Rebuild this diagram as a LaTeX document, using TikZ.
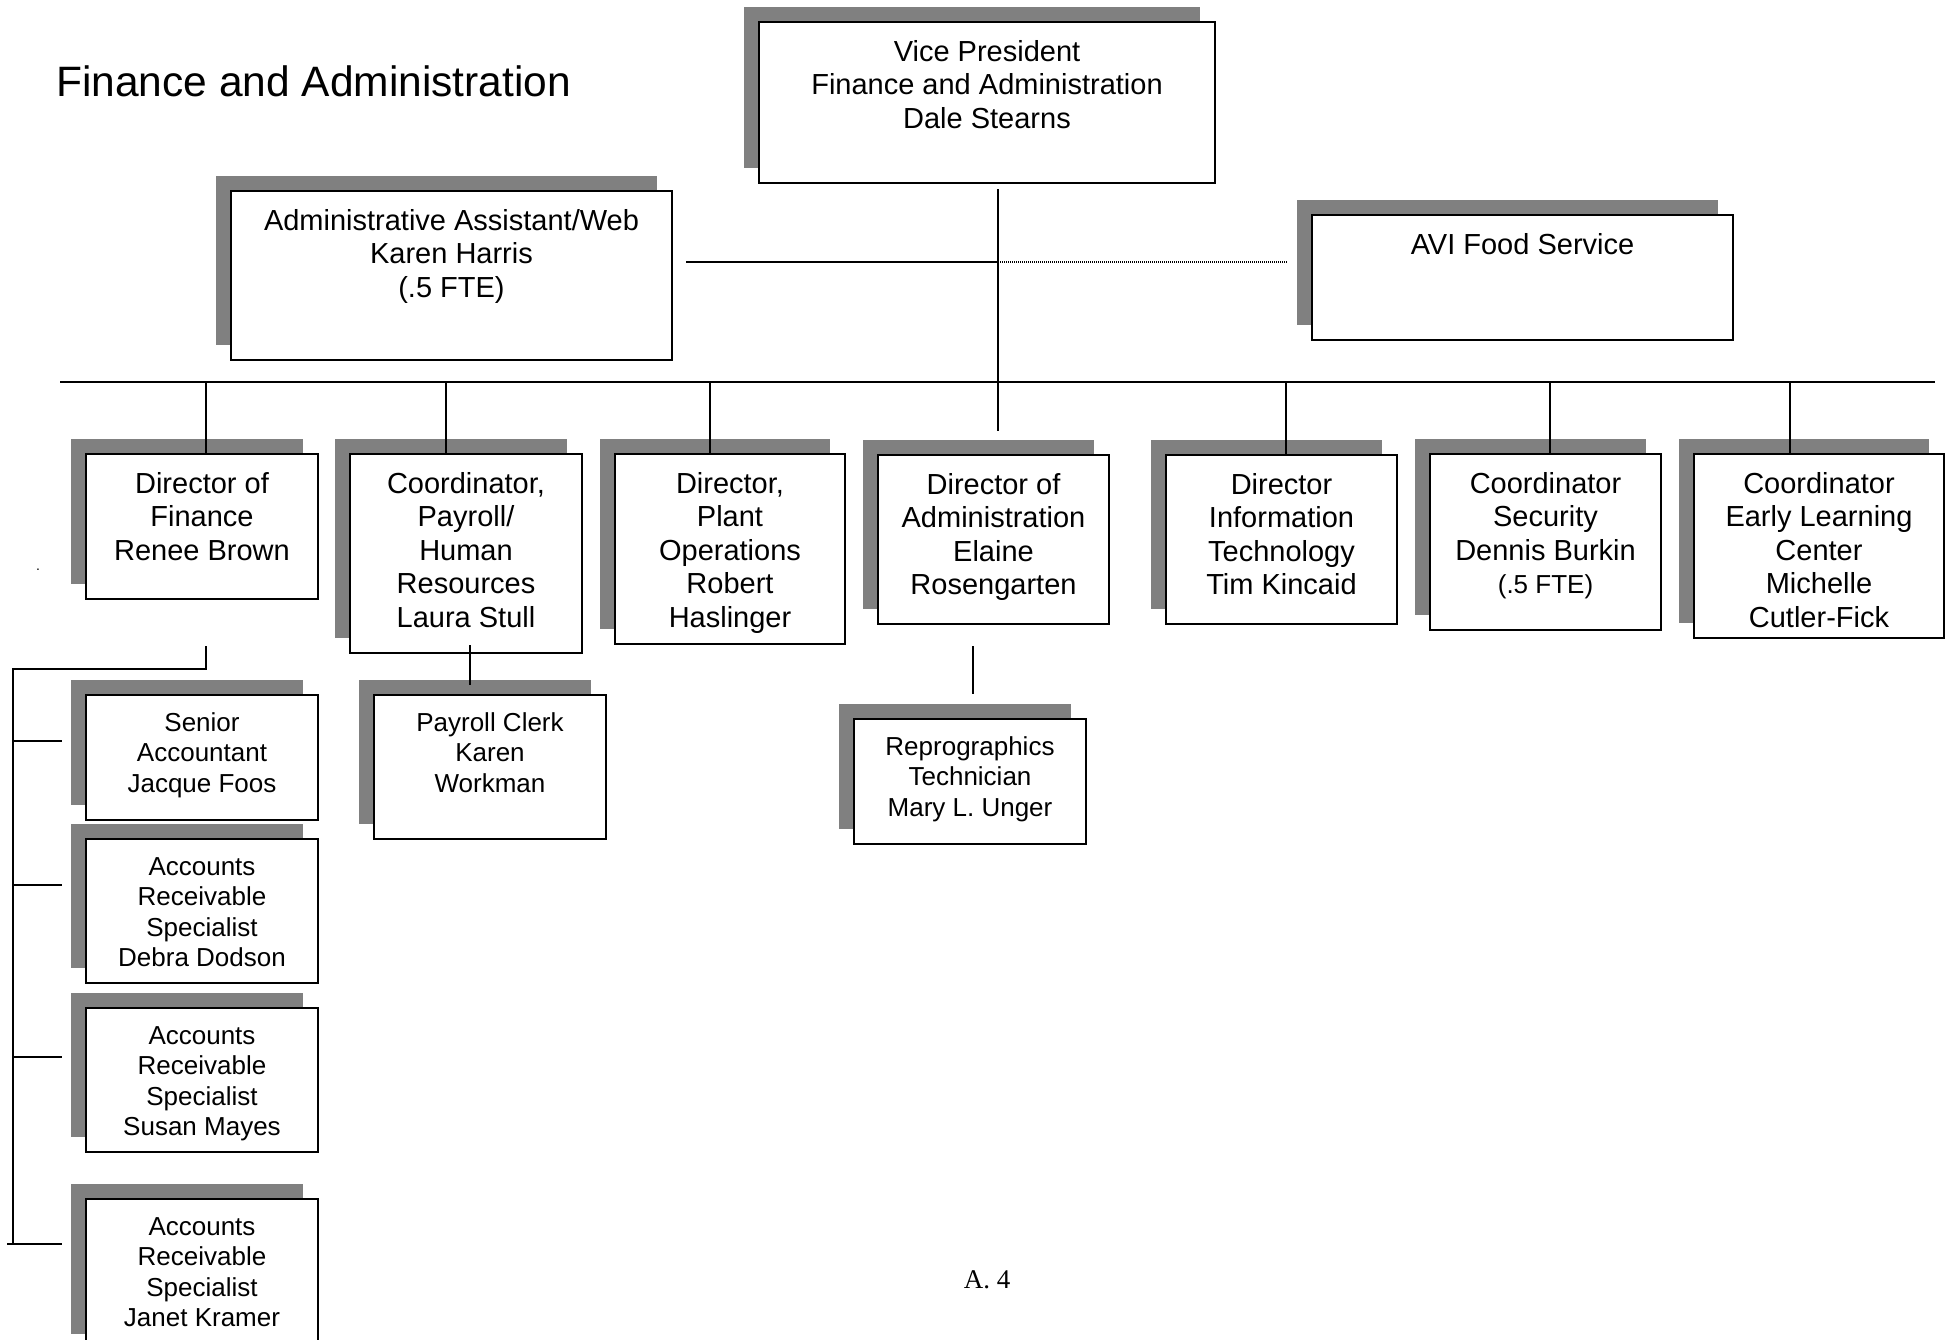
\documentclass[tikz,border=0pt]{standalone}
\usepackage{fontspec}
\setmainfont{Liberation Sans}
\newfontfamily\serifA{Liberation Serif}
\usetikzlibrary{shadows}
\definecolor{shadowgray}{HTML}{808080}
\newcommand{\bigtxt}{\fontsize{29}{33.6}\selectfont\rule{0pt}{39pt}}
\newcommand{\smltxt}{\fontsize{26}{30.5}\selectfont\rule{0pt}{36pt}}
\newcommand{\obox}[7]{%
  \node[orgbox] (#1) at (#2,#3) {\parbox[c][#5pt][t]{#4pt}{\centering #6#7}};}
\tikzset{
  orgbox/.style={draw=black, line width=2pt, fill=white, inner sep=0pt, anchor=north west,
    drop shadow={shadow xshift=-15pt, shadow yshift=15pt, fill=shadowgray, opacity=1}},
  conn/.style={line width=2pt, line cap=rect},
  dotconn/.style={line width=1.5pt, dash pattern=on 1pt off 1pt},
}
\begin{document}
\begin{tikzpicture}[x=1pt, y=-1pt]
\fill[white] (0,0) rectangle (1952,1339);
\useasboundingbox (0,0) rectangle (1952,1339);

% title and page number
\node[anchor=base west, inner sep=0pt] (title) at (56,96) {\fontsize{42.5}{50}\selectfont Finance and Administration};
\node[anchor=base, inner sep=0pt] (pagenum) at (987,1288) {\serifA\fontsize{27}{30}\selectfont A. 4};
\node[inner sep=0pt] (dot) at (38,570) {\fontsize{14}{14}\selectfont .};

% top level
\obox{vp}{758}{21}{456}{161}{\bigtxt}{Vice President\\Finance and Administration\\Dale Stearns}
\obox{admin}{230}{190}{441}{169}{\bigtxt}{Administrative Assistant/Web\\Karen Harris\\(.5 FTE)}
\obox{avi}{1311}{214}{421}{125}{\bigtxt}{AVI Food Service}

% second row
\obox{fin}{85}{453}{232}{145}{\bigtxt}{Director of\\Finance\\Renee Brown}
\obox{pay}{349}{453}{232}{199}{\bigtxt}{Coordinator,\\Payroll/\\Human\\Resources\\Laura Stull}
\obox{plant}{614}{453}{230}{190}{\bigtxt}{Director,\\Plant\\Operations\\Robert\\Haslinger}
\obox{adm}{877}{454}{231}{169}{\bigtxt}{Director of\\Administration\\Elaine\\Rosengarten}
\obox{it}{1165}{454}{231}{169}{\bigtxt}{Director\\Information\\Technology\\Tim Kincaid}
\obox{sec}{1429}{453}{231}{176}{\bigtxt}{Coordinator\\Security\\Dennis Burkin\\{\fontsize{26}{30}\selectfont (.5 FTE)}}
\obox{elc}{1693}{453}{250}{184}{\bigtxt}{Coordinator\\Early Learning\\Center\\Michelle\\Cutler-Fick}

% third level
\obox{sr}{85}{694}{232}{125}{\smltxt}{Senior\\Accountant\\Jacque Foos}
\obox{ar1}{85}{838}{232}{144}{\smltxt}{Accounts\\Receivable\\Specialist\\Debra Dodson}
\obox{ar2}{85}{1007}{232}{144}{\smltxt}{Accounts\\Receivable\\Specialist\\Susan Mayes}
\obox{ar3}{85}{1198}{232}{150}{\smltxt}{Accounts\\Receivable\\Specialist\\Janet Kramer}
\obox{clerk}{373}{694}{232}{144}{\smltxt}{Payroll Clerk\\Karen\\Workman}
\obox{repro}{853}{718}{232}{125}{\smltxt}{Reprographics\\Technician\\Mary L. Unger}

% connector coordinates
\coordinate (vpdrop) at (998,190);
\coordinate (vpend) at (998,430);
\coordinate (busL) at (61,382);
\coordinate (busR) at (1934,382);
\coordinate (aline) at (687,262);
\coordinate (aviend) at (1287,262);
\coordinate (b1) at (206,382);
\coordinate (b2) at (446,382);
\coordinate (b3) at (710,382);
\coordinate (b5) at (1286,382);
\coordinate (b6) at (1550,382);
\coordinate (b7) at (1790,382);

\draw[conn] (vpdrop) -- (vpend);
\draw[conn] (busL) -- (busR);
\draw[conn] (aline) -- (aline -| vpdrop);
\draw[dotconn] (aline -| vpdrop) -- (aviend);
\foreach \b/\n in {b1/fin, b2/pay, b3/plant, b5/it, b6/sec, b7/elc}
  \draw[conn] (\b) -- (\b |- \n.north);

% finance bracket
\coordinate (fb1) at (206,646);
\coordinate (fb2) at (206,669);
\coordinate (trunkT) at (13,669);
\coordinate (trunkB) at (13,1244);
\coordinate (s1) at (62,741);
\coordinate (s2) at (62,885);
\coordinate (s3) at (62,1057);
\coordinate (s4) at (62,1244);
\coordinate (s4L) at (7,1244);
\draw[conn, line cap=butt] (fb1) -- (fb2) -- (trunkT) -- (trunkB);
\draw[conn, line cap=butt] (s1 -| trunkT) -- (s1);
\draw[conn, line cap=butt] (s2 -| trunkT) -- (s2);
\draw[conn, line cap=butt] (s3 -| trunkT) -- (s3);
\draw[conn, line cap=butt] (s4L) -- (s4);

% payroll and reprographics links
\coordinate (p1) at (470,645);
\coordinate (p2) at (470,685);
\draw[conn, line cap=butt] (p1) -- (p2);
\coordinate (r1) at (973,646);
\coordinate (r2) at (973,694);
\draw[conn, line cap=butt] (r1) -- (r2);
\end{tikzpicture}
\end{document}
